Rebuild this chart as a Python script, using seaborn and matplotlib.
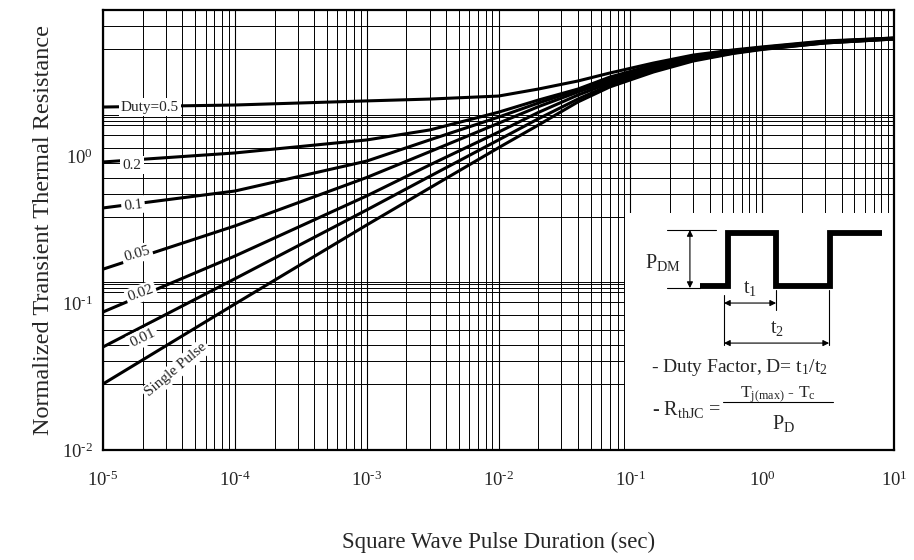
import numpy as np
import pandas as pd
import matplotlib
matplotlib.use("Agg")
import matplotlib.pyplot as plt
import matplotlib.patches as mpatches
import seaborn as sns
from matplotlib.ticker import LogLocator, NullFormatter, FixedLocator, FuncFormatter

# ---------------- data ----------------
pulse_time = [1e-5, 1e-4, 1e-3, 3e-3, 1e-2, 2e-2, 4e-2, 7e-2,
              0.15, 0.3, 0.6, 1.0, 3.0, 10.0]
z_duty_050 = [2.18, 2.25, 2.40, 2.47, 2.59, 2.89, 3.28, 3.72, 4.35, 4.93, 5.34, 5.60, 6.15, 6.44]
z_duty_020 = [0.92, 1.06, 1.30, 1.52, 2.01, 2.43, 2.89, 3.49, 4.22, 4.86, 5.25, 5.55, 6.10, 6.44]
z_duty_010 = [0.447, 0.583, 0.933, 1.30, 1.86, 2.32, 2.85, 3.38, 4.15, 4.79, 5.20, 5.51, 6.05, 6.41]
z_duty_005 = [0.171, 0.337, 0.721, 1.08, 1.69, 2.19, 2.76, 3.28, 4.08, 4.71, 5.17, 5.51, 6.05, 6.39]
z_duty_002 = [0.0873, 0.210, 0.540, 0.877, 1.47, 2.00, 2.63, 3.18, 4.02, 4.63, 5.13, 5.46, 6.00, 6.37]
z_duty_001 = [0.0504, 0.147, 0.433, 0.733, 1.30, 1.81, 2.47, 3.08, 3.90, 4.56, 5.09, 5.42, 5.96, 6.34]
z_single = [0.0282, 0.0989, 0.342, 0.611, 1.15, 1.64, 2.36, 2.99, 3.78, 4.49, 5.05, 5.38, 5.96, 6.34]
series_names = ["Duty=0.5", "0.2", "0.1", "0.05", "0.02", "0.01", "Single Pulse"]
series_values = [z_duty_050, z_duty_020, z_duty_010, z_duty_005,
                 z_duty_002, z_duty_001, z_single]
x_major_ticks = [1e-5, 1e-4, 1e-3, 1e-2, 1e-1, 1e0, 1e1]
y_major_ticks = [1e-2, 1e-1, 1e0]
# horizontal grid lines as drawn in the reference (irregular hand-drawn grid)
y_grid_lines = [7.78, 5.42, 1.92, 1.86, 1.75, 1.64, 1.41, 1.15, 0.906, 0.716,
                0.556, 0.388, 0.140, 0.1355, 0.127, 0.119, 0.102, 0.0832,
                0.0657, 0.0520, 0.0405, 0.0282]
x_label = "Square Wave Pulse Duration (sec)"
y_label = "Normalized Transient Thermal Resistance"

frames = []
for name, vals in zip(series_names, series_values):
    frames.append(pd.DataFrame({"t": pulse_time, "z": vals, "duty": name}))
df = pd.concat(frames, ignore_index=True)

# ---------------- style ----------------
sns.set_style("white")
plt.rcParams["font.family"] = ["Liberation Serif", "DejaVu Serif"]
plt.rcParams["mathtext.fontset"] = "custom"
plt.rcParams["mathtext.rm"] = "Liberation Serif"
plt.rcParams["mathtext.it"] = "Liberation Serif:italic"
plt.rcParams["mathtext.default"] = "regular"

fig = plt.figure(figsize=(9.14, 5.60), dpi=100)
ax = fig.add_axes([103 / 914, 1 - 450 / 560, 791 / 914, 440 / 560])

sns.lineplot(data=df, x="t", y="z", hue="duty", units="duty", estimator=None,
             palette=["black"] * len(series_names), legend=False,
             linewidth=2.2, ax=ax, sort=False)

ax.set_xscale("log")
ax.set_yscale("log")
ax.set_xlim(1e-5, 10)
ax.set_ylim(1e-2, 10)


def pow10_label(v, pos):
    k = int(round(np.log10(v)))
    exp = str(k).replace("-", "\u2010")
    return r"10$^{%s}$" % exp


ax.xaxis.set_major_locator(FixedLocator(x_major_ticks))
ax.xaxis.set_minor_locator(LogLocator(base=10, subs=np.arange(2, 10), numticks=100))
ax.yaxis.set_major_locator(FixedLocator(y_major_ticks))
ax.yaxis.set_minor_locator(FixedLocator(y_grid_lines))
ax.xaxis.set_major_formatter(FuncFormatter(pow10_label))
ax.yaxis.set_major_formatter(FuncFormatter(pow10_label))
ax.xaxis.set_minor_formatter(NullFormatter())
ax.yaxis.set_minor_formatter(NullFormatter())

ax.xaxis.grid(True, which="major", color="black", linewidth=0.8)
ax.xaxis.grid(True, which="minor", color="black", linewidth=0.7)
ax.yaxis.grid(False, which="major")
ax.yaxis.grid(True, which="minor", color="black", linewidth=0.7)
ax.tick_params(which="both", direction="in", top=True, right=True,
               labelsize=13.5, color="black")
ax.tick_params(which="major", length=0)
ax.tick_params(axis="x", which="major", pad=15)
ax.tick_params(axis="y", which="major", pad=7)
ax.tick_params(which="minor", length=6, width=0.6)
for s in ax.spines.values():
    s.set_linewidth(1.6)
    s.set_color("black")

ax.set_xlabel(x_label, fontsize=16.5, labelpad=30)
ax.set_ylabel(y_label, fontsize=17.5, labelpad=6)

# curve labels
label_style = dict(fontsize=11, ha="center", va="center", zorder=5,
                   bbox=dict(boxstyle="square,pad=0.15", fc="white", ec="none"))
ax.text(2.27e-5, 2.18, "Duty=0.5", rotation=0, **label_style)
ax.text(1.66e-5, 0.877, "0.2", rotation=0, **label_style)
ax.text(1.69e-5, 0.468, "0.1", rotation=6, **label_style)
ax.text(1.81e-5, 0.217, "0.05", rotation=16, **label_style)
ax.text(1.94e-5, 0.117, "0.02", rotation=20, **label_style)
ax.text(2.01e-5, 0.058, "0.01", rotation=26, **label_style)
ax.text(3.58e-5, 0.0351, "Single Pulse", rotation=40, **label_style)

# ---------------- inset (duty cycle explanation) ----------------
ta = ax.transAxes
ax.add_patch(mpatches.Rectangle((0.660, 0.0), 0.340, 0.538, transform=ta,
                                facecolor="white", edgecolor="none", zorder=1.8))
wave_x = [0.7547, 0.7897, 0.7897, 0.8504, 0.8504, 0.9191, 0.9191, 0.9845]
wave_y = [0.3734, 0.3734, 0.4932, 0.4932, 0.3734, 0.3734, 0.4932, 0.4932]
ax.plot(wave_x, wave_y, transform=ta, color="black", linewidth=4.2,
        solid_joinstyle="miter", solid_capstyle="butt", zorder=4)

thin = dict(color="black", linewidth=0.8, transform=ta, zorder=4)
ax.plot([0.713, 0.775], [0.500, 0.500], **thin)
ax.plot([0.713, 0.7547], [0.368, 0.368], **thin)
ax.plot([0.785, 0.785], [0.352, 0.239], **thin)
ax.plot([0.851, 0.851], [0.364, 0.318], **thin)
ax.plot([0.918, 0.918], [0.364, 0.239], **thin)

arr = dict(arrowstyle="<|-|>", color="black", lw=0.8, mutation_scale=9,
           shrinkA=0, shrinkB=0)
ax.annotate("", xy=(0.742, 0.500), xytext=(0.742, 0.368), xycoords=ta,
            textcoords=ta, arrowprops=arr, zorder=4)
ax.annotate("", xy=(0.785, 0.334), xytext=(0.851, 0.334), xycoords=ta,
            textcoords=ta, arrowprops=arr, zorder=4)
ax.annotate("", xy=(0.785, 0.243), xytext=(0.918, 0.243), xycoords=ta,
            textcoords=ta, arrowprops=arr, zorder=4)

txt = dict(transform=ta, fontsize=14.5, zorder=4)
ax.text(0.708, 0.427, r"P$_\mathrm{DM}$", ha="center", va="center", **txt)
ax.text(0.818, 0.366, r"t$_1$", ha="center", va="center", **txt)
ax.text(0.852, 0.276, r"t$_2$", ha="center", va="center", **txt)
ax.text(0.805, 0.188, r"- Duty Factor, D= t$_1$/t$_2$", ha="center", va="center",
        transform=ta, fontsize=14, zorder=4)
ax.text(0.782, 0.093, r"- R$_\mathrm{thJC}$ =", ha="right", va="center", **txt)
ax.text(0.853, 0.120, r"T$_\mathrm{j(max)}$ - T$_\mathrm{c}$", ha="center",
        va="baseline", transform=ta, fontsize=12.5, zorder=4)
ax.plot([0.784, 0.923], [0.110, 0.110], **thin)
ax.text(0.860, 0.060, r"P$_\mathrm{D}$", ha="center", va="center", **txt)

fig.savefig("out.png", dpi=100)
